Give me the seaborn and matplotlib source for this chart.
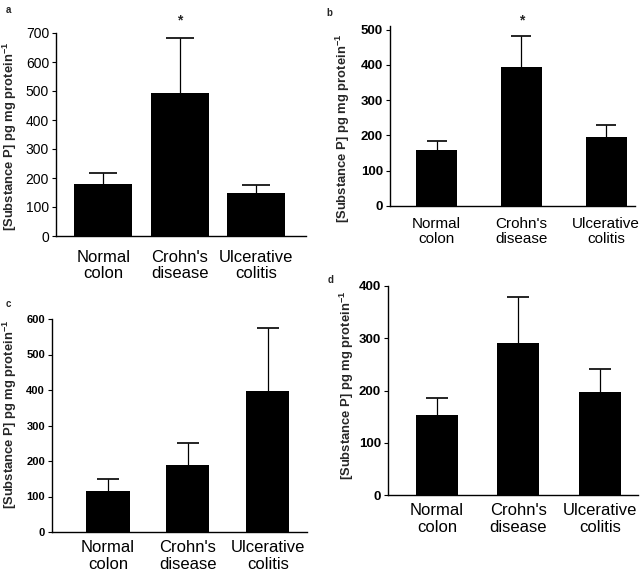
import matplotlib
matplotlib.use("Agg")
import matplotlib.pyplot as plt
import seaborn as sns
import pandas as pd
import numpy as np

sns.set_style("white")
plt.rcParams['font.family'] = ['Liberation Sans', 'DejaVu Sans']
plt.rcParams['mathtext.fontset'] = 'custom'
plt.rcParams['mathtext.rm'] = 'Liberation Sans'
plt.rcParams['mathtext.bf'] = 'Liberation Sans:bold'

categories = ["Normal\ncolon", "Crohn's\ndisease", "Ulcerative\ncolitis"]

a_vals = [178, 493, 148]
a_errs = [39, 190, 28]
b_vals = [160, 395, 195]
b_errs = [24, 87, 35]
c_vals = [115, 190, 397]
c_errs = [33, 60, 178]
d_vals = [153, 291, 197]
d_errs = [32, 87, 44]

panel_letters = ["a", "b", "c", "d"]
ylabel = r"[Substance P] pg mg protein$^{\mathbf{-1}}$"

W, H = 640, 577
fig = plt.figure(figsize=(W / 100, H / 100), dpi=100)


def make_ax(l, r, t, b):
    return fig.add_axes([l / W, 1 - b / H, (r - l) / W, (b - t) / H])


specs = [
    # vals, errs, rect(l,r,t,b), ylim, xlim, width, capsize, tickfont, tickweight, ylabel(x,y), star, xlabpad, xfs
    (a_vals, a_errs, (56, 306, 33, 236), 700, (-0.62, 2.65), 0.76, 10, 10, 'normal', (10, 136), True, 10, 12),
    (b_vals, b_errs, (390, 635, 26, 206), 510, (-0.55, 2.34), 0.48, 7.5, 9.5, 'bold', (343, 128), True, 8, 11),
    (c_vals, c_errs, (52, 307, 319, 532), 600, (-0.70, 2.49), 0.54, 8, 8, 'bold', (10, 414), False, 6, 12),
    (d_vals, d_errs, (388, 638, 286, 495), 400, (-0.60, 2.47), 0.52, 8, 9.5, 'bold', (347, 385), False, 6, 12),
]

letter_pos = [(6, 10), (326, 13), (6, 304), (328, 280)]

for i, (vals, errs, rect, ytop, xlim, bw, cap, tfs, tfw, ylpos, star, xpad, xfs) in enumerate(specs):
    ax = make_ax(*rect)
    df = pd.DataFrame({"group": categories, "value": vals})
    sns.barplot(data=df, x="group", y="value", color="black", width=bw,
                linewidth=0, saturation=1, ax=ax)
    _, caplines, _ = ax.errorbar(x=np.arange(len(vals)), y=vals,
                                 yerr=[np.zeros(len(errs)), errs], fmt='none',
                                 ecolor='black', elinewidth=0.9, capsize=cap,
                                 capthick=1.2, zorder=0)
    caplines[0].set_visible(False)
    ax.set_ylim(0, ytop)
    ax.set_xlim(*xlim)
    ax.set_yticks(np.arange(0, ytop + 1, 100))
    ax.set_xlabel("")
    ax.set_ylabel("")
    for s in ["top", "right"]:
        ax.spines[s].set_visible(False)
    for s in ["left", "bottom"]:
        ax.spines[s].set_color("black")
        ax.spines[s].set_linewidth(1.0)
    ax.tick_params(axis='y', left=True, length=3, width=0.8, pad=2,
                   labelsize=tfs, colors='black')
    for lab in ax.get_yticklabels():
        lab.set_fontweight(tfw)
    ax.tick_params(axis='x', bottom=False, length=0, pad=xpad, labelsize=xfs,
                   colors='black')
    for lab in ax.get_xticklabels():
        lab.set_linespacing(1.1)
    ylx, yly = ylpos
    fig.text(ylx / W, 1 - yly / H, ylabel, rotation=90,
             ha='center', va='center', fontsize=9.4, fontweight='bold')
    if star:
        ax.text(1, vals[1] + errs[1] + ytop * 0.085, "*", ha='center', va='center',
                fontsize=10, fontweight='bold', clip_on=False)
    lx, ly = letter_pos[i]
    fig.text(lx / W, 1 - ly / H, panel_letters[i], ha='left', va='center',
             fontsize=7, fontweight='bold')

fig.savefig("out.png", dpi=100, facecolor='white')
